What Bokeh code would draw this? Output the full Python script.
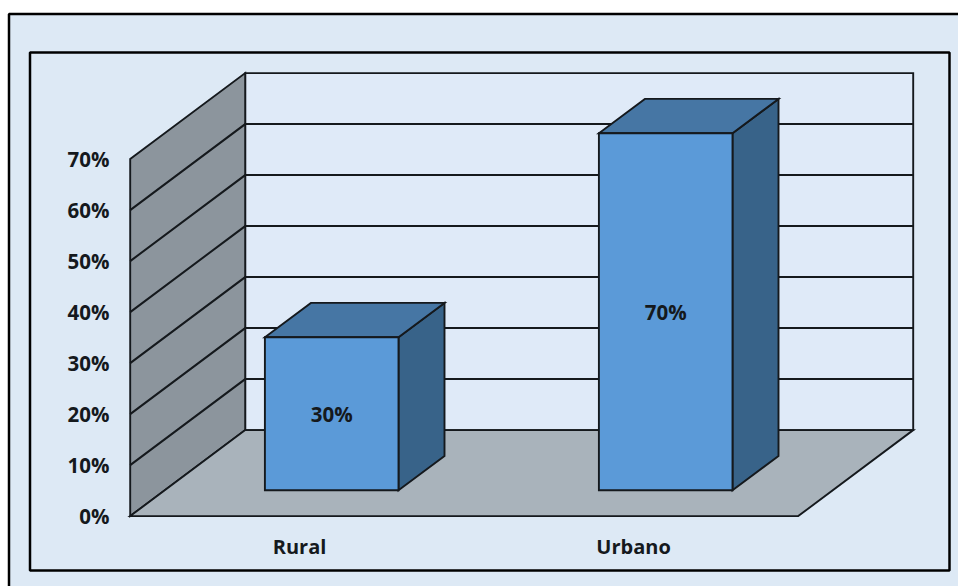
from bokeh.embed import file_html
from bokeh.resources import INLINE
from bokeh.plotting import figure
from bokeh.models import Range1d, LinearAxis, FixedTicker, BoxAnnotation
from bokeh.core.properties import value

categories = ["Rural", "Urbano"]
percent_values = [30, 70]
tick_values = [0, 10, 20, 30, 40, 50, 60, 70]
tick_labels = ["0%", "10%", "20%", "30%", "40%", "50%", "60%", "70%"]

# layout
W, H = 958, 586
ORIGIN_X, ORIGIN_Y = 129.7, 515.6  # picture pixels of the front-left zero point
PX_PER_CAT, PX_PER_PCT = 334, 5.1
DX = 115 / PX_PER_CAT              # 3-D depth in category units
DY = 86 / PX_PER_PCT               # 3-D depth in percent units
FONT = "Open Sans"
INK = "#15191d"

def xr(px):
    return (px - ORIGIN_X) / PX_PER_CAT

def yr(px):
    return (ORIGIN_Y - px) / PX_PER_PCT

def proj(x, pct, depth):
    return x + depth * DX, pct + depth * DY

def face(points):
    xy = [proj(*pt) for pt in points]
    return [a for a, _ in xy], [b for _, b in xy]

p = figure(width=W, height=H, output_backend="svg", toolbar_location=None,
           x_axis_type=None, y_axis_type=None, min_border=0,
           x_range=Range1d(xr(0), xr(W)), y_range=Range1d(yr(H), yr(0)))
p.outline_line_color = None
p.grid.visible = False
p.background_fill_color = None
p.border_fill_color = "white"

# chart-area and plot-area frames
for left, right, top_px, bottom_px in [(8.5, 1000, 13.5, 700), (29.5, 949, 52, 570)]:
    p.add_layout(BoxAnnotation(left=xr(left), right=xr(right),
                               top=yr(top_px), bottom=yr(bottom_px),
                               fill_color="#DDE9F5", fill_alpha=1,
                               line_color="black", line_alpha=1, line_width=2.5,
                               level="underlay"))

n = len(categories)
top = tick_values[-1]

def poly(points, fill, lw=1.9, color=INK):
    xs, ys = face(points)
    p.patch(xs, ys, fill_color=fill, line_color=color, line_width=lw, line_join="miter")

# back wall, side wall, floor
poly([(0, 0, 1), (n, 0, 1), (n, top, 1), (0, top, 1)], "#DFEAF8")
poly([(0, 0, 0), (0, 0, 1), (0, top, 1), (0, top, 0)], "#8C959D")
for t in tick_values[1:-1]:
    xs, ys = face([(0, t, 0), (0, t, 1), (n, t, 1)])
    p.line(xs, ys, line_color=INK, line_width=2, line_join="miter")
poly([(0, 0, 0), (n, 0, 0), (n, 0, 1), (0, 0, 1)], "#A9B3BB")

# bars
for i, v in enumerate(percent_values):
    l, r = i + 0.3, i + 0.7
    d0, d1 = 0.3, 0.7
    poly([(r, 0, d0), (r, 0, d1), (r, v, d1), (r, v, d0)], "#386389")
    poly([(l, v, d0), (r, v, d0), (r, v, d1), (l, v, d1)], "#4676A4")
    poly([(l, 0, d0), (r, 0, d0), (r, v, d0), (l, v, d0)], "#5B9AD8")
    cx, cy = proj(i + 0.5, v / 2, d0)
    p.text([cx], [cy], text=[f"{v}%"], text_align="center", text_baseline="middle",
           text_font=value(FONT), text_font_style="bold", text_font_size="20.5px",
           text_color=INK)

# value axis
y_axis = LinearAxis(fixed_location=xr(117),
                    ticker=FixedTicker(ticks=tick_values),
                    major_label_overrides=dict(zip(tick_values, tick_labels)))
x_ticks = [i + 0.5 + 0.007 for i in range(n)]
x_axis = LinearAxis(fixed_location=yr(524.5),
                    ticker=FixedTicker(ticks=x_ticks),
                    major_label_overrides=dict(zip(x_ticks, categories)))
for ax in (y_axis, x_axis):
    ax.axis_line_color = None
    ax.major_tick_line_color = None
    ax.minor_tick_line_color = None
    ax.major_label_standoff = 2
    ax.major_label_text_font = FONT
    ax.major_label_text_font_style = "bold"
    ax.major_label_text_font_size = "20.5px"
    ax.major_label_text_color = INK
x_axis.major_label_text_font_size = "20px"
p.add_layout(y_axis, "left")
p.add_layout(x_axis, "below")

open("out.html", "w").write(file_html(p, INLINE))
